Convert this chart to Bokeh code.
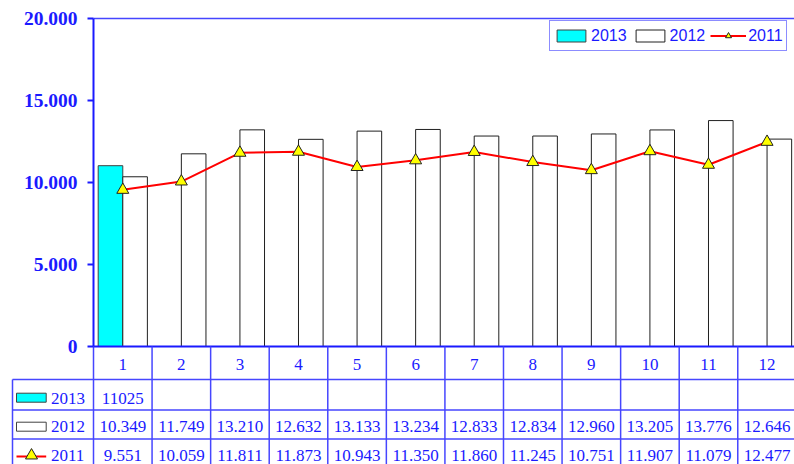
from bokeh.plotting import figure
from bokeh.models import Range1d, FixedTicker, Legend, LegendItem
from bokeh.core.properties import value
from bokeh.embed import file_html
from bokeh.resources import INLINE

# ---------------- data ----------------
months = ["1", "2", "3", "4", "5", "6", "7", "8", "9", "10", "11", "12"]
series_2013 = [11025]
series_2012 = [10349, 11749, 13210, 12632, 13133, 13234, 12833, 12834, 12960, 13205, 13776, 12646]
series_2011 = [9551, 10059, 11811, 11873, 10943, 11350, 11860, 11245, 10751, 11907, 11079, 12477]
series_names = ["2013", "2012", "2011"]
y_ticks = [0, 5000, 10000, 15000, 20000]
y_tick_labels = ["0", "5.000", "10.000", "15.000", "20.000"]

# ---------------- styling / layout ----------------
BLUE = "#1a1aff"
LINE_BLUE = "#4646ff"
CYAN = "#00ffff"
RED = "#ff0000"
YELLOW = "#ffff00"
SERIF = "Liberation Serif"
SANS = "Liberation Sans"

W, H = 794, 464
FRAME_L = 93          # pixel x of the value axis
CW = 58.57            # pixels per category
ZERO_Y = 346          # pixel y of value 0
TOP_Y = 18            # pixel y of value 20000
YMAX = 20000
PPU = (ZERO_Y - TOP_Y) / YMAX
BAR_W = 0.42

def tx(px):
    return (px - FRAME_L) / CW

def ty(py):
    return (ZERO_Y - py) / PPU

def fmt_dot(v):
    return f"{v:,}".replace(",", ".")

cx = [i + 0.5 for i in range(len(months))]

p = figure(width=W, height=H,
           x_range=Range1d(tx(0), tx(W)),
           y_range=Range1d(ty(H), ty(0)),
           output_backend="svg", toolbar_location=None,
           x_axis_location=None, y_axis_location="left",
           min_border=0, min_border_left=0, min_border_right=0,
           min_border_top=0, min_border_bottom=0,
           outline_line_color=None, background_fill_color="white")
p.grid.visible = False

ax = p.yaxis[0]
ax.fixed_location = 0
ax.ticker = FixedTicker(ticks=y_ticks)
ax.major_label_overrides = dict(zip(y_ticks, y_tick_labels))
ax.bounds = (0, YMAX)
ax.axis_line_color = BLUE
ax.axis_line_width = 2
ax.major_tick_line_color = BLUE
ax.major_tick_line_width = 2
ax.major_tick_out = 6
ax.major_tick_in = 0
ax.minor_tick_out = 0
ax.minor_tick_in = 0
ax.major_label_standoff = 10
ax.major_label_text_font = SERIF
ax.major_label_text_font_style = "bold"
ax.major_label_text_font_size = "19.5px"
ax.major_label_text_color = BLUE

# top border of the plot area
p.segment(x0=[0], x1=[tx(W) + 1], y0=[YMAX], y1=[YMAX], line_color=LINE_BLUE, line_width=1.5)

# ---------------- series ----------------
r13 = p.vbar(x=[cx[0] - BAR_W / 2], top=series_2013, width=BAR_W, bottom=0,
             fill_color=CYAN, line_color="#404040", line_width=1)
r12 = p.vbar(x=[c + BAR_W / 2 for c in cx], top=series_2012, width=BAR_W, bottom=0,
             fill_color="white", line_color="#202020", line_width=1)
rl = p.line(x=cx, y=series_2011, line_color=RED, line_width=2)
rs = p.scatter(x=cx, y=series_2011, marker="triangle", size=12,
               fill_color=YELLOW, line_color="#222222", line_width=1)

# category axis line
p.segment(x0=[0], x1=[tx(W) + 1], y0=[0], y1=[0], line_color=BLUE, line_width=2)

legend = Legend(items=[LegendItem(label=series_names[0], renderers=[r13]),
                       LegendItem(label=series_names[1], renderers=[r12]),
                       LegendItem(label=series_names[2], renderers=[rl, rs])],
                location=(549, H - 51), orientation="horizontal",
                margin=0, padding=3, spacing=5, label_standoff=2,
                glyph_width=36, glyph_height=15, label_height=23,
                border_line_color=BLUE, border_line_width=1.5,
                background_fill_color="white", background_fill_alpha=1,
                label_text_font=SANS, label_text_font_size="16px",
                label_text_color=BLUE)
p.add_layout(legend)

# ---------------- data table under the chart ----------------
row_lines = [379, 409.5, 438.5]
col_lines = list(range(len(months)))
bottom = ty(H + 2)
p.segment(x0=col_lines, x1=col_lines, y0=[0] * len(col_lines), y1=[bottom] * len(col_lines),
          line_color=LINE_BLUE, line_width=1.5)
p.segment(x0=[tx(12)], x1=[tx(12)], y0=[ty(row_lines[0])], y1=[bottom],
          line_color=LINE_BLUE, line_width=1.5)
p.segment(x0=[tx(12)] * 3, x1=[tx(W) + 1] * 3, y0=[ty(r) for r in row_lines],
          y1=[ty(r) for r in row_lines], line_color=LINE_BLUE, line_width=1.5)

ROW_HEAD, ROW_13, ROW_12, ROW_11 = 364, 397.5, 425.5, 454.5

txt = dict(text_align="center", text_baseline="middle", text_font=value(SERIF),
           text_font_size="17px", text_color=BLUE)
p.text(x=cx, y=[ty(ROW_HEAD)] * len(months), text=months, **txt)
p.text(x=cx[:len(series_2013)], y=[ty(ROW_13)] * len(series_2013),
       text=[str(v) for v in series_2013], **txt)
p.text(x=cx, y=[ty(ROW_12)] * len(months), text=[fmt_dot(v) for v in series_2012], **txt)
p.text(x=cx, y=[ty(ROW_11)] * len(months), text=[fmt_dot(v) for v in series_2011], **txt)

# row headers (legend keys of the data table)
lab = dict(text_align="left", text_baseline="middle", text_font=value(SERIF),
           text_font_size="17px", text_color=BLUE)
p.text(x=[tx(50.5)] * 3, y=[ty(ROW_13), ty(ROW_12), ty(ROW_11)], text=series_names, **lab)
p.quad(left=[tx(16)], right=[tx(45.7)], top=[ty(392.7)], bottom=[ty(401.7)],
       fill_color=CYAN, line_color="#404040", line_width=1)
p.quad(left=[tx(16)], right=[tx(45.7)], top=[ty(421.7)], bottom=[ty(430.7)],
       fill_color="white", line_color="#404040", line_width=1)
p.segment(x0=[tx(16)], x1=[tx(45.7)], y0=[ty(456)], y1=[ty(456)], line_color=RED, line_width=2)
p.scatter(x=[tx(31)], y=[ty(455)], marker="triangle", size=12,
          fill_color=YELLOW, line_color="#222222", line_width=1)

open("out.html", "w").write(file_html(p, INLINE))
